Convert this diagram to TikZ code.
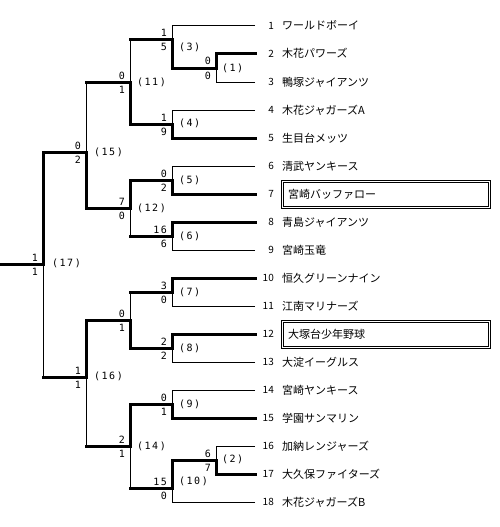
\documentclass[tikz,border=0pt]{standalone}
\usepackage{fontspec}
\setmainfont{Noto Sans CJK JP}
\newfontfamily\jpfont{Noto Sans CJK JP}
\newfontfamily\digfont[LetterSpace=15]{DejaVu Sans Mono}
\newcommand\scorepair[3]{%
  \node[sc] (#1a) at ([shift={(-5,-3)}]#1) {#2};
  \node[sc] (#1b) at ([shift={(-5,11)}]#1) {#3};}
\newcommand\team[2]{%
  \node[tnum] (n#1) at ([shift={(19,3.6)}]t#1) {#1};
  \node[tname] (name#1) at ([shift={(27,4)}]t#1) {#2};}
\begin{document}
\begin{tikzpicture}[x=1pt,y=-1pt,
  lose/.style={line width=1pt},
  win/.style={line width=3pt,line cap=rect,line join=miter},
  sc/.style={anchor=base east,inner sep=0pt,font=\digfont\fontsize{10}{10}\selectfont},
  ml/.style={anchor=base west,inner sep=0pt,font=\digfont\fontsize{10}{10}\selectfont},
  tnum/.style={anchor=base east,inner sep=0pt,font=\jpfont\fontsize{10}{10}\selectfont},
  tname/.style={anchor=base west,inner sep=0pt,font=\jpfont\fontsize{11}{11}\selectfont},
  boxed/.style={anchor=west,draw,line width=1pt,double=white,double distance=1pt,
    outer sep=0pt,minimum height=26pt,text width=196pt,inner xsep=5.5pt,inner ysep=0pt,
    align=left,font=\jpfont\fontsize{11}{11}\selectfont}]
\useasboundingbox (0,0) rectangle (500,527);
% team line ends
\foreach \i in {1,...,18} \coordinate (t\i) at (255,{26+28*(\i-1)});
% match joins
\coordinate (j1) at (216,68);
\coordinate (j2) at (216,460);
\coordinate (j3) at (172,40);
\coordinate (j4) at (172,124);
\coordinate (j5) at (172,180);
\coordinate (j6) at (172,236);
\coordinate (j7) at (172,292);
\coordinate (j8) at (172,348);
\coordinate (j9) at (172,404);
\coordinate (j10) at (172,488);
\coordinate (j11) at (130,82);
\coordinate (j12) at (130,208);
\coordinate (j13) at (130,320);
\coordinate (j14) at (130,446);
\coordinate (j15) at (86,152);
\coordinate (j16) at (86,377);
\coordinate (j17) at (43,264);
\coordinate (root) at (0,264);
% losing lines
\draw[lose] (t1) -| (j3);
\draw[lose] (t3) -| (j1);
\draw[lose] (t4) -| (j4);
\draw[lose] (j3 -| j11) -- (j11);
\draw[lose] (j11 -| j15) -- (j15);
\draw[lose] (t6) -| (j5);
\draw[lose] (t9) -| (j6);
\draw[lose] (j6 -| j12) -- (j12);
\draw[lose] (j16 -| j17) -- (j17);
\draw[lose] (t11) -| (j7);
\draw[lose] (t13) -| (j8);
\draw[lose] (j7 -| j13) -- (j13);
\draw[lose] (j14 -| j16) -- (j16);
\draw[lose] (t14) -| (j9);
\draw[lose] (t16) -| (j2);
\draw[lose] (t18) -| (j10);
\draw[lose] (j10 -| j14) -- (j14);
% winning lines
\draw[win] (t7) -| (j5) -| (j12) -| (j15) -| (j17) -- (root);
\draw[win] (t2) -| (j1) -| (j3) -- (j3 -| j11);
\draw[win] (t5) -| (j4) -| (j11) -- (j11 -| j15);
\draw[win] (t8) -| (j6) -- (j6 -| j12);
\draw[win] (t10) -| (j7) -- (j7 -| j13);
\draw[win] (t12) -| (j8) -| (j13) -| (j16) -- (j16 -| j17);
\draw[win] (t15) -| (j9) -| (j14) -- (j14 -| j16);
\draw[win] (t17) -| (j2) -| (j10) -- (j10 -| j14);
% scores
\scorepair{j1}{0}{0}
\scorepair{j2}{6}{7}
\scorepair{j3}{1}{5}
\scorepair{j4}{1}{9}
\scorepair{j5}{0}{2}
\scorepair{j6}{16}{6}
\scorepair{j7}{3}{0}
\scorepair{j8}{2}{2}
\scorepair{j9}{0}{1}
\scorepair{j10}{15}{0}
\scorepair{j11}{0}{1}
\scorepair{j12}{7}{0}
\scorepair{j13}{0}{1}
\scorepair{j14}{2}{1}
\scorepair{j15}{0}{2}
\scorepair{j16}{1}{1}
\scorepair{j17}{1}{1}
% match labels
\node[ml] (l1) at (222,71.6) {(1)};
\node[ml] (l2) at (222,462.6) {(2)};
\node[ml] (l3) at (179,50.6) {(3)};
\node[ml] (l4) at (179,126.6) {(4)};
\node[ml] (l5) at (179,183.6) {(5)};
\node[ml] (l6) at (179,239.6) {(6)};
\node[ml] (l7) at (179,295.6) {(7)};
\node[ml] (l8) at (179,351.6) {(8)};
\node[ml] (l9) at (179,407.6) {(9)};
\node[ml] (l10) at (179,484.6) {(10)};
\node[ml] (l11) at (137,85.6) {(11)};
\node[ml] (l12) at (137,211.6) {(12)};
\node[ml] (l14) at (137,449.6) {(14)};
\node[ml] (l15) at (94,155.6) {(15)};
\node[ml] (l16) at (94,379.6) {(16)};
\node[ml] (l17) at (52,266.6) {(17)};
% teams
\team{1}{ワールドボーイ}
\team{2}{木花パワーズ}
\team{3}{鴨塚ジャイアンツ}
\team{4}{木花ジャガーズA}
\team{5}{生目台メッツ}
\team{6}{清武ヤンキース}
\node[tnum] (n7) at ([shift={(19,3.6)}]t7) {7};
\node[boxed] (name7) at ([shift={(27.5,0)}]t7) {宮崎バッファロー};
\team{8}{青島ジャイアンツ}
\team{9}{宮崎玉竜}
\team{10}{恒久グリーンナイン}
\team{11}{江南マリナーズ}
\node[tnum] (n12) at ([shift={(19,3.6)}]t12) {12};
\node[boxed] (name12) at ([shift={(27.5,0)}]t12) {大塚台少年野球};
\team{13}{大淀イーグルス}
\team{14}{宮崎ヤンキース}
\team{15}{学園サンマリン}
\team{16}{加納レンジャーズ}
\team{17}{大久保ファイターズ}
\team{18}{木花ジャガーズB}
\end{tikzpicture}
\end{document}
